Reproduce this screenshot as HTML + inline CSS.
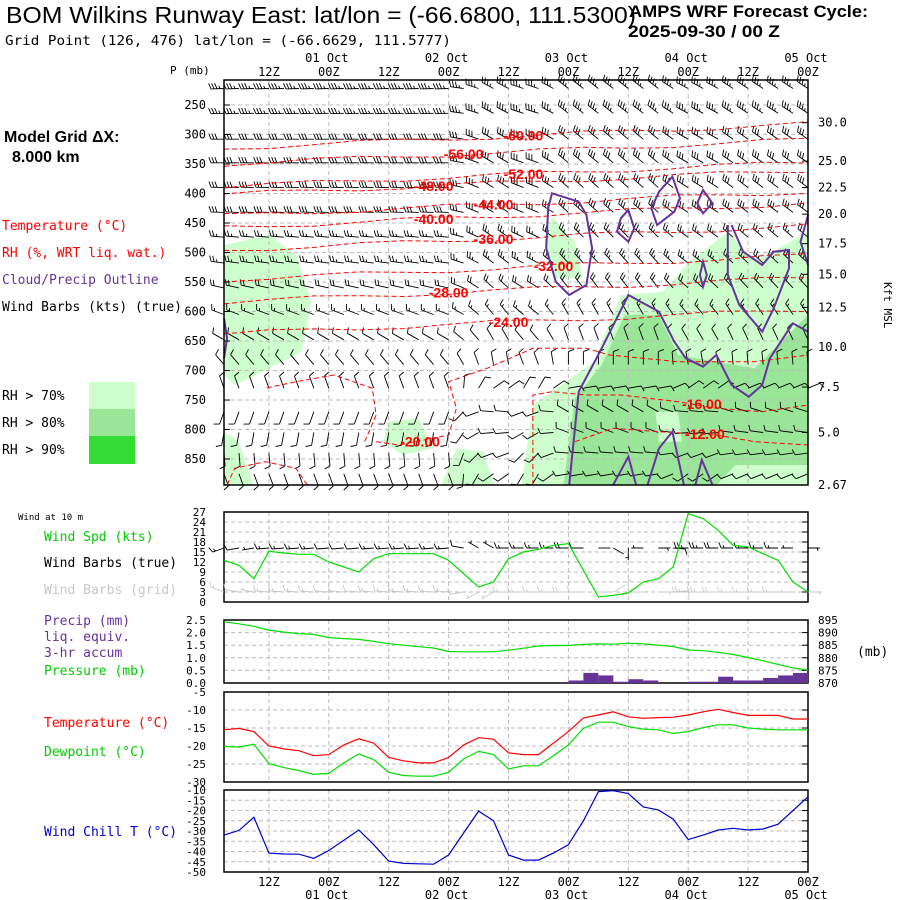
<!DOCTYPE html>
<html><head><meta charset="utf-8"><title>AMPS WRF Meteogram</title>
<style>
html,body{margin:0;padding:0;background:#fff;width:900px;height:900px;overflow:hidden}
svg{display:block}
text{font-family:"DejaVu Sans Mono","Liberation Mono",monospace}
.t{font-family:"Liberation Sans Narrow","Liberation Sans",sans-serif}
</style></head><body>
<svg id="c" width="900" height="900" viewBox="0 0 900 900" xmlns="http://www.w3.org/2000/svg">
<text class="t" x="6" y="23" font-size="23" textLength="630" lengthAdjust="spacingAndGlyphs">BOM Wilkins Runway East:  lat/lon = (-66.6800, 111.5300)</text>
<text class="t" x="629" y="17" font-size="17" font-weight="bold" textLength="239" lengthAdjust="spacingAndGlyphs">AMPS WRF Forecast Cycle:</text>
<text class="t" x="628" y="37" font-size="17" font-weight="bold" textLength="152" lengthAdjust="spacingAndGlyphs">2025-09-30 / 00  Z</text>
<text x="5" y="45" font-size="13" textLength="446" lengthAdjust="spacingAndGlyphs">Grid Point (126, 476) lat/lon = (-66.6629, 111.5777)</text>
<text x="170" y="74" font-size="11">P (mb)</text>
<text class="t" x="4" y="142" font-size="16" font-weight="bold">Model Grid ΔX:</text>
<text class="t" x="12" y="162" font-size="16" font-weight="bold">8.000 km</text>
<text x="2" y="230" font-size="13" fill="#f00">Temperature (°C)</text>
<text x="2" y="257" font-size="13" fill="#f00">RH (%, WRT liq. wat.)</text>
<text x="2" y="284" font-size="13" fill="#663399">Cloud/Precip Outline</text>
<text x="2" y="311" font-size="13">Wind Barbs (kts) (true)</text>
<rect x="89" y="382" width="46" height="27" fill="#ccffcc"/>
<rect x="89" y="409" width="46" height="27" fill="#99e699"/>
<rect x="89" y="436" width="46" height="28" fill="#33dd33"/>
<text x="2" y="400" font-size="13">RH &gt; 70%</text>
<text x="2" y="427" font-size="13">RH &gt; 80%</text>
<text x="2" y="454" font-size="13">RH &gt; 90%</text>
<text font-size="11" transform="translate(884,282) rotate(90)">Kft MSL</text>
<text x="18" y="520" font-size="9">Wind at 10 m</text>
<text x="44" y="541" font-size="13" fill="#00cc00">Wind Spd (kts)</text>
<text x="44" y="567" font-size="13">Wind Barbs (true)</text>
<text x="44" y="594" font-size="13" fill="#c8c8c8">Wind Barbs (grid)</text>
<text x="44" y="625" font-size="13" fill="#663399">Precip (mm)</text>
<text x="44" y="641" font-size="13" fill="#663399">liq. equiv.</text>
<text x="44" y="657" font-size="13" fill="#663399">3-hr accum</text>
<text x="44" y="675" font-size="13" fill="#00cc00">Pressure (mb)</text>
<text x="857" y="656" font-size="13">(mb)</text>
<text x="44" y="727" font-size="13" fill="#f00">Temperature (°C)</text>
<text x="44" y="756" font-size="13" fill="#00cc00">Dewpoint (°C)</text>
<text x="44" y="836" font-size="13" fill="#0000cc">Wind Chill T (°C)</text>
</svg>
<script>
// ---- data ----
const hours=[3,6,9,12,15,18,21,24,27,30,33,36,39,42,45,48,51,54,57,60,63,66,69,72,75,78,81,84,87,90,93,96,99,102,105,108,111,114,117,120];
const windSpd=[12.5,11,7,15.2,14.7,14.3,14.3,12,10.5,9,13,14.5,14.5,14.5,14.5,12.5,8.5,4.5,6,13,15,15.8,17,17.5,9.5,1.5,2,2.7,6,7,10.5,26.5,25,21.5,17,16.5,14.5,12.5,6,3];
const pressure=[894.3,893.5,892.5,891,890.2,889.6,889.3,888,887.6,887.3,886.5,885.6,885,884.4,883.9,882.5,882.4,882.4,882.4,883,883.8,884.7,884.9,884.9,885.3,885.5,885.4,885.8,885.5,885,884.5,883.1,882.8,882.2,881.3,880.1,878.8,877.4,876,875.1];
const precip=[0,0,0,0,0,0,0,0,0,0,0,0,0,0,0,0,0,0,0,0,0,0,0,0,0.1,0.4,0.3,0.05,0.15,0.1,0,0,0.05,0.05,0.25,0.1,0.1,0.2,0.3,0.4];
const temperature=[-15.5,-15.1,-16,-20,-20.8,-21.3,-22.7,-22.4,-19.7,-18,-19.2,-23.2,-24.1,-24.7,-24.7,-23.2,-19.7,-17.7,-18.1,-21.9,-22.4,-22.4,-19.2,-16,-12.2,-11.4,-10.5,-11.9,-12.3,-12.1,-12,-11.4,-10.5,-9.8,-10.7,-11.5,-11.5,-11.5,-12.5,-12.5];
const dewpoint=[-20.1,-20.3,-19.5,-24.9,-26,-26.8,-27.9,-27.6,-24.7,-22.2,-23.8,-27.3,-28.2,-28.4,-28.4,-27.3,-23.6,-21.5,-22.4,-26.4,-25.5,-25.5,-22.7,-19.7,-15.1,-13.4,-13.4,-14.6,-15.3,-15.5,-16.5,-16,-14.9,-14.1,-14.1,-15,-15.3,-15.5,-15.5,-15.5];
const windChill=[-32,-29.7,-23.3,-40.8,-41.2,-41.3,-43.3,-39.5,-34.5,-29.5,-36.7,-44.7,-45.8,-46,-46.2,-41.7,-31,-20.3,-25,-41.7,-44.2,-44.2,-40.8,-36.7,-25,-10.8,-10.3,-11.7,-18.3,-19.7,-24.2,-34.2,-32,-29.5,-28.7,-29.5,-29,-26.7,-20,-13.3];
const wind10Dir=[250,260,260,265,265,265,265,265,265,265,265,265,265,265,265,265,280,300,300,270,270,270,270,270,270,90,120,180,270,90,95,270,270,270,270,270,270,270,270,90];
const pTicks=[250,300,350,400,450,500,550,600,650,700,750,800,850];
const kftTicks=["30.0","25.0","22.5","20.0","17.5","15.0","12.5","10.0","7.5","5.0","2.67"];
const kftPress=[280,345,390,435,485,537,593,660,728,805,894];
const timeTicks=[12,24,36,48,60,72,84,96,108,120];
const timeLabels=["12Z","00Z","12Z","00Z","12Z","00Z","12Z","00Z","12Z","00Z"];
const dateLabels=["","01 Oct","","02 Oct","","03 Oct","","04 Oct","","05 Oct"];
const barbRows=[222,264,308,348,390,432,474,518,560,605,648,690,730,770,805,840,875];
const rowSpeed=[35,35,30,30,30,30,25,25,20,15,12,10,10,12,10,10,8];
const rowDir=[268,268,270,270,272,272,275,278,282,290,300,320,340,200,190,175,160];
const colDirShift=[0,0,0,0,0,0,0,0,0,0,0,0,0,0,0,0,10,20,30,30,20,20,30,40,40,40,40,40,40,40,35,30,30,30,35,35,35,35,35,35];
const isoTemps=[-60,-56,-52,-48,-44,-40,-36,-32,-28,-24];
const isoPress=[302,333,367,387,419,443,477,523,568,618];
const isoLabelHour=[63,51,63,45,57,45,57,69,48,60];

// ---- scales ----
const X0=224,X1=808;
const X=h=>X0+(h-3)*(X1-X0)/117;
const PY=p=>80+(p-207.6)*0.59;
const W=v=>602-v*90/27;
const PR=v=>683-v*63/2.5;
const PP=v=>683-(v-870)*63/25;
const TY=v=>692+(-5-v)*90/25;
const CY=v=>790+(-10-v)*82/40;
const svg=document.getElementById('c');
const NS='http://www.w3.org/2000/svg';
function mk(tag,attrs,parent){const e=document.createElementNS(NS,tag);for(const k in attrs)e.setAttribute(k,attrs[k]);(parent||svg).appendChild(e);return e;}
function txt(s,x,y,size,anchor,fill,parent){const e=mk('text',{x:x,y:y,'font-size':size,'text-anchor':anchor||'start',fill:fill||'#000'},parent);e.textContent=s;return e;}

// ---- main panel ----
const main=mk('g',{});


const zx=v=>224+(v-12)/2.616, zy=v=>80+(v-15)/3;
function poly(pts,fill,stroke,sw,name,closed,dash){const d=pts.map((p,i)=>(i?'L':'M')+zx(p[0]).toFixed(1)+' '+zy(p[1]).toFixed(1)).join(' ')+(closed?' Z':'');const e=mk('path',{d:d,fill:fill,stroke:stroke||'none','stroke-width':sw||1,'stroke-dasharray':dash||'none'},main);return e;}
const L='#ccffcc',M='#99e699';
poly([[12,510],[130,480],[200,540],[240,680],[215,830],[130,880],[40,930],[12,900]],L,0,0,'rh-region',true);
poly([[12,1070],[50,1100],[90,1230],[12,1230]],L,0,0,'rh-region',true);
poly([[850,500],[870,425],[930,500],[950,610],[880,610]],L,0,0,'rh-region',true);
poly([[440,1040],[520,1030],[560,1120],[480,1140],[430,1100]],L,0,0,'rh-region',true);
poly([[580,1230],[620,1120],[690,1130],[720,1230]],L,0,0,'rh-region',true);
poly([[790,1230],[820,990],[870,950],[980,860],[1050,660],[1160,650],[1230,560],[1330,470],[1400,560],[1540,470],[1540,1230]],L,0,0,'rh-region',true);
poly([[900,1230],[930,970],[1000,870],[1060,720],[1150,720],[1200,840],[1300,860],[1400,880],[1540,720],[1540,1170],[1350,1170],[1300,1230]],M,0,0,'rh-region',true);
poly([[1140,1010],[1200,1010],[1210,1100],[1150,1100]],L,0,0,'rh-region',true);
for(const h of timeTicks){mk('line',{x1:X(h),x2:X(h),y1:80,y2:485,stroke:'#bbb','stroke-dasharray':'4,3'},main);}
for(const p of pTicks){mk('line',{x1:X0,x2:X1,y1:PY(p),y2:PY(p),stroke:'#bbb','stroke-dasharray':'4,3'},main);}
// barbs
function barb(x,y,dir,spd,col,g,len){len=len||13;const r=dir*Math.PI/180;const dx=Math.sin(r),dy=-Math.cos(r);const ex=x+dx*len,ey=y+dy*len;let d='M'+x.toFixed(1)+' '+y.toFixed(1)+'L'+ex.toFixed(1)+' '+ey.toFixed(1);
 const fx=Math.sin(r+1.2)*6,fy=-Math.cos(r+1.2)*6;let n=Math.round(spd/5),pos=0;
 while(n>=2){const bx=ex-dx*pos,by=ey-dy*pos;d+='M'+bx.toFixed(1)+' '+by.toFixed(1)+'l'+fx.toFixed(1)+' '+fy.toFixed(1);pos+=3;n-=2;}
 if(n===1){const bx=ex-dx*(pos||3),by=ey-dy*(pos||3);d+='M'+bx.toFixed(1)+' '+by.toFixed(1)+'l'+(fx/2).toFixed(1)+' '+(fy/2).toFixed(1);}
 const e=mk('path',{d:d,fill:'none',stroke:col,'stroke-width':0.9},g);
 
 }
barbRows.forEach((p,ri)=>{hours.forEach((h,ci)=>{const sh=ri<12?colDirShift[ci]:colDirShift[ci]*2.5;barb(X(h),PY(p),rowDir[ri]+sh,rowSpeed[ri],'#000',main);});});
// isotherms
isoTemps.forEach((t,i)=>{const p=isoPress[i];const pts=[];for(let h=3;h<=120;h+=9){const dp=(h-isoLabelHour[i])*(-0.35)+Math.sin(h/7+i)*4;pts.push(X(h).toFixed(1)+','+PY(p+dp).toFixed(1));}
 const e=mk('polyline',{points:pts.join(' '),fill:'none',stroke:'#f00','stroke-dasharray':'5,3'},main);
 
 
 const lb=txt(t.toFixed(2),X(isoLabelHour[i]),PY(p)+5,14,'middle','#f00',main);
 
 
 lb.setAttribute('style','font-family:"Liberation Sans",sans-serif;font-weight:bold');});
poly([[380,1100],[410,1020],[400,940],[300,900],[200,920],[120,940]],'none','#f00',1,'isotherm-line',false,'5,3');
poly([[410,1100],[470,1110],[600,1080],[620,1000],[600,920],[700,880],[820,820],[960,820],[1020,840],[1200,860],[1400,860],[1540,840]],'none','#f00',1,'isotherm-line',false,'5,3');
poly([[820,1230],[820,960],[870,950],[960,960],[1050,960],[1200,980],[1300,1000],[1420,1010],[1540,990]],'none','#f00',1,'isotherm-line',false,'5,3');
poly([[930,1100],[1030,1060],[1150,1070],[1300,1080],[1400,1100],[1540,1110]],'none','#f00',1,'isotherm-line',false,'5,3');
poly([[20,1230],[40,1180],[120,1160],[200,1180],[230,1230]],'none','#f00',1,'isotherm-line',false,'5,3');
[['-20.00',525,1100],['-16.00',1262,987],['-12.00',1270,1077]].forEach(a=>{const lb=txt(a[0],zx(a[1]),zy(a[2])+5,14,'middle','#f00',main);lb.setAttribute('style','font-family:"Liberation Sans",sans-serif;font-weight:bold');});
// cloud outlines
const P='#663399';
poly([[870,355],[940,380],[960,420],[975,520],[960,630],[915,660],[880,620],[855,520],[860,400]],'none',P,2,'cloud-outline',true);
poly([[1070,405],[1085,460],[1070,500],[1040,470],[1050,430]],'none',P,2,'cloud-outline',true);
poly([[1185,305],[1205,370],[1190,410],[1145,450],[1130,400],[1150,350]],'none',P,2,'cloud-outline',true);
poly([[1265,345],[1290,385],[1265,415],[1250,385]],'none',P,2,'cloud-outline',true);
poly([[1265,560],[1275,600],[1265,635],[1257,600]],'none',P,2,'cloud-outline',true);
poly([[915,1230],[940,950],[1000,820],[1070,660],[1150,710],[1190,800],[1220,850],[1265,875],[1300,840],[1340,930],[1385,965],[1420,930],[1440,850],[1500,745],[1540,770]],'none',P,2,'cloud-outline',false);
poly([[1330,450],[1330,600],[1360,690],[1420,770],[1450,700],[1490,580],[1490,525],[1450,530],[1420,570],[1370,530],[1340,450]],'none',P,2,'cloud-outline',false);
poly([[1540,420],[1520,500],[1540,570]],'none',P,2,'cloud-outline',false);
poly([[12,730],[20,790],[12,850]],'none',P,2,'cloud-outline',false);
poly([[1030,1230],[1070,1145],[1090,1230]],'none',P,2,'cloud-outline',false);
poly([[1120,1230],[1150,1120],[1185,1070],[1215,1230]],'none',P,2,'cloud-outline',false);
poly([[1245,1230],[1262,1155],[1290,1230]],'none',P,2,'cloud-outline',false);
mk('rect',{x:X0,y:80,width:X1-X0,height:405,fill:'none',stroke:'#000','stroke-width':1.5});
pTicks.forEach(p=>{const e=txt(String(p),206,PY(p)+4,12,'end');mk('line',{x1:X0,x2:X0+6,y1:PY(p),y2:PY(p),stroke:'#000'});});
kftTicks.forEach((s,i)=>{const e=txt(s,818,PY(kftPress[i])+4,12);mk('line',{x1:X1-6,x2:X1,y1:PY(kftPress[i]),y2:PY(kftPress[i]),stroke:'#000'});});
timeTicks.forEach((h,i)=>{const a=txt(timeLabels[i],X(h),76,12,'middle');
 if(dateLabels[i]){const b=txt(dateLabels[i],X(h)-2,62,12,'middle');}
 const c=txt(timeLabels[i],X(h),886,12,'middle');
 if(dateLabels[i]){const d=txt(dateLabels[i],X(h)-2,899,12,'middle');}});

// ---- lower panels ----
function panel(name,top,bot,ticks,fn){const g=mk('g',{});
 timeTicks.forEach(h=>mk('line',{x1:X(h),x2:X(h),y1:top,y2:bot,stroke:'#bbb','stroke-dasharray':'4,3'},g));
 ticks.forEach(v=>{const y=fn(v);if(y>top+1&&y<bot-1)mk('line',{x1:X0,x2:X1,y1:y,y2:y,stroke:'#bbb','stroke-dasharray':'4,3'},g);mk('line',{x1:X1-6,x2:X1,y1:y,y2:y,stroke:'#000'},g);
  const t=txt(String(v),206,y+4,11,'end','#000',g);});
 mk('rect',{x:X0,y:top,width:X1-X0,height:bot-top,fill:'none',stroke:'#000','stroke-width':1.5},g);return g;}
function line(arr,fn,col,name){const e=mk('polyline',{points:arr.map((v,i)=>X(hours[i]).toFixed(1)+','+fn(v).toFixed(1)).join(' '),fill:'none',stroke:col,'stroke-width':1.2});}
panel('wind-panel',512,602,[0,3,6,9,12,15,18,21,24,27],W);
hours.forEach((h,i)=>{barb(X(h),548,wind10Dir[i],windSpd[i],'#000',svg,12);barb(X(h),592,360-wind10Dir[i]+180,windSpd[i],'#c8c8c8',svg,14);});
line(windSpd,W,'#00dd00','wind-speed-line');
const pg=panel('precip-panel',620,683,[0,0.5,1,1.5,2,2.5],PR);
pg.querySelectorAll('text').forEach(t=>{t.textContent=Number(t.textContent).toFixed(1);});
[870,875,880,885,890,895].forEach(v=>{const t=txt(String(v),818,PP(v)+4,11);});
precip.forEach((v,i)=>{if(v>0){const e=mk('rect',{x:X(hours[i]-3),y:PR(v),width:X(hours[i])-X(hours[i]-3),height:683-PR(v),fill:'#663399'});}});
line(pressure,PP,'#00dd00','pressure-line');
panel('temperature-panel',692,782,[-5,-10,-15,-20,-25,-30],TY);
line(temperature,TY,'#ff0000','temperature-line');
line(dewpoint,TY,'#00dd00','dewpoint-line');
panel('windchill-panel',790,872,[-10,-15,-20,-25,-30,-35,-40,-45,-50],CY);
line(windChill,CY,'#0000cc','windchill-line');
</script>
</body></html>
